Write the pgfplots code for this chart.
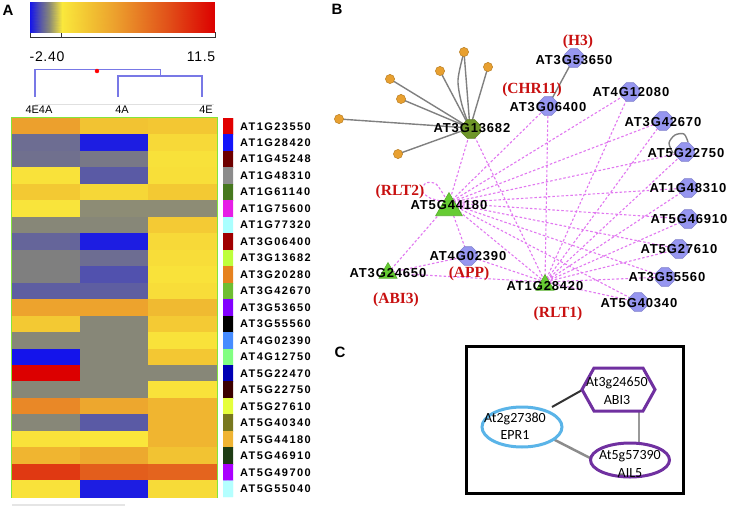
\documentclass[border=0pt]{standalone}
\usepackage{fontspec}
\setmainfont{Liberation Sans}
\newfontfamily\lsA[LetterSpace=13]{Liberation Sans}
\newfontfamily\lsB[LetterSpace=6.5]{Liberation Sans}
\newfontfamily\lsC[LetterSpace=5]{Liberation Sans}
\newfontfamily\rmred{Liberation Serif}
\newfontfamily\carfont{Carlito}
\usepackage{pgfplots}
\pgfplotsset{compat=1.18}
\usepackage{pgfplotstable}
\usetikzlibrary{shapes.geometric}

\definecolor{hgreen}{RGB}{130,230,60}
\definecolor{dendro}{RGB}{120,120,230}
\definecolor{dotor}{RGB}{232,160,48}
\definecolor{nblue}{RGB}{150,150,240}
\definecolor{ngreen}{RGB}{110,150,40}
\definecolor{tgreen}{RGB}{102,204,51}
\definecolor{edgem}{RGB}{225,120,240}
\definecolor{redlab}{RGB}{200,16,16}
\definecolor{cblue}{RGB}{90,180,232}
\definecolor{cpurp}{RGB}{112,48,160}

% rounded node shape for the network
\pgfdeclareplotmark{oct}{%
  \pgfpathmoveto{\pgfqpoint{\pgfplotmarksize}{0.4\pgfplotmarksize}}%
  \pgfpathlineto{\pgfqpoint{0.4\pgfplotmarksize}{\pgfplotmarksize}}%
  \pgfpathlineto{\pgfqpoint{-0.4\pgfplotmarksize}{\pgfplotmarksize}}%
  \pgfpathlineto{\pgfqpoint{-\pgfplotmarksize}{0.4\pgfplotmarksize}}%
  \pgfpathlineto{\pgfqpoint{-\pgfplotmarksize}{-0.4\pgfplotmarksize}}%
  \pgfpathlineto{\pgfqpoint{-0.4\pgfplotmarksize}{-\pgfplotmarksize}}%
  \pgfpathlineto{\pgfqpoint{0.4\pgfplotmarksize}{-\pgfplotmarksize}}%
  \pgfpathlineto{\pgfqpoint{\pgfplotmarksize}{-0.4\pgfplotmarksize}}%
  \pgfpathclose
  \pgfusepathqfillstroke}

\pgfplotsset{
  txt/.style={draw=none, mark=none, nodes near coords, point meta=explicit symbolic,
    nodes near coords style={anchor=center, inner sep=0pt, #1}},
  colormap={heat}{[1pt] rgb255(0pt)=(20,20,235) rgb255(8pt)=(90,90,165)
    rgb255(14pt)=(135,135,120) rgb255(24pt)=(250,232,60) rgb255(44pt)=(242,195,50)
    rgb255(64pt)=(236,160,45) rgb255(104pt)=(225,80,25) rgb255(139pt)=(220,0,0)},
}

% expression values (4E4A, 4A, 4E), row 0 = AT1G23550
\pgfplotstableread{
x y c
0 0 4.0
1 0 2.0
2 0 1.8
0 1 -1.35
1 1 -2.3
2 1 0.8
0 2 -1.3
1 2 -1.2
2 2 0.4
0 3 0.3
1 3 -1.6
2 3 0.5
0 4 1.7
1 4 0.9
2 4 1.7
0 5 0.2
1 5 -0.95
2 5 -0.95
0 6 -1.0
1 6 -1.0
2 6 1.6
0 7 -1.45
1 7 -2.3
2 7 0.8
0 8 -1.1
1 8 -1.35
2 8 0.6
0 9 -1.1
1 9 -1.7
2 9 0.3
0 10 -1.55
1 10 -1.55
2 10 0.6
0 11 3.8
1 11 3.8
2 11 2.5
0 12 1.7
1 12 -1.0
2 12 1.6
0 13 -1.0
1 13 -1.0
2 13 0.3
0 14 -2.4
1 14 -1.0
2 14 1.8
0 15 11.5
1 15 -1.0
2 15 -1.0
0 16 -1.0
1 16 -1.0
2 16 0.3
0 17 5.2
1 17 3.6
2 17 2.8
0 18 -1.0
1 18 -1.6
2 18 2.8
0 19 0.3
1 19 0.1
2 19 2.8
0 20 2.8
1 20 3.5
2 20 2.0
0 21 9.0
1 21 7.3
2 21 7.0
0 22 0.3
1 22 -2.3
2 22 0.7
}\heat

\pgfplotstableread{
x y c
0 0 0
1 0 0
0 1 1
1 1 1
0 2 2
1 2 2
0 3 3
1 3 3
0 4 4
1 4 4
0 5 5
1 5 5
0 6 6
1 6 6
0 7 7
1 7 7
0 8 8
1 8 8
0 9 9
1 9 9
0 10 10
1 10 10
0 11 11
1 11 11
0 12 12
1 12 12
0 13 13
1 13 13
0 14 14
1 14 14
0 15 15
1 15 15
0 16 16
1 16 16
0 17 17
1 17 17
0 18 18
1 18 18
0 19 19
1 19 19
0 20 20
1 20 20
0 21 21
1 21 21
0 22 22
1 22 22
}\side

\pgfplotstableread{
x y lab
574 60 AT3G53650
548 107 AT3G06400
631 92 AT4G12080
663 122 AT3G42670
686 153 AT5G22750
472 128 AT3G13682
688 188 AT1G48310
689 219 AT5G46910
679 249 AT5G27610
667 277 AT3G55560
639 303 AT5G40340
545 286 AT1G28420
468 256 AT4G02390
388 273 AT3G24650
449 205 AT5G44180
}\genelab

\pgfplotstableread{
x y lab
578 42 (H3)
532 90 (CHR11)
400 192 (RLT2)
469 274 (APP)
396 300 (ABI3)
558 314 (RLT1)
}\redlab

\pgfplotstableread{
x y lab
39 110 4E4A
122 110 4A
206 110 4E
}\dendlab

\pgfplotstableread{
x y lab
47 57 -2.40
201 57 11.5
}\cblab

\pgfplotstableread{
x y lab
8 10 A
337 9 B
340 352 C
}\panlab

\begin{document}
\begin{tikzpicture}
% ---------- main canvas: dendrogram, network, panel C ----------
\begin{axis}[at={(0,0)}, anchor=south west, width=730bp, height=508bp, scale only axis,
  xmin=0, xmax=730, ymin=0, ymax=508, y dir=reverse, hide axis, clip=false,
  unbounded coords=jump]
% dendrogram
\addplot[dendro, line width=1.5bp] coordinates {(35,97)(35,69.5)(160.7,69.5)(160.7,76) (nan,nan) (118,97)(118,76)(202,76)(202,97)};
\addplot[only marks, mark=*, mark size=2, red, mark options={draw=red}] coordinates {(97,71)};
\addplot[black!12, line width=1bp] coordinates {(35,105)(214,105)};
\addplot[black!80, line width=0.8bp] coordinates {(30,32)(30,37)(215,37)(215,32) (nan,nan) (61,32)(61,37)};
\addplot[black!10, line width=1.5bp] coordinates {(12,505)(125,505)};
\addplot[txt={font=\fontsize{11bp}{12bp}\selectfont}] table[meta=lab] {\dendlab};
\addplot[txt={font=\lsC\fontsize{14bp}{16bp}\selectfont}] table[meta=lab] {\cblab};
\addplot[txt={font=\bfseries\fontsize{15bp}{17bp}\selectfont}] table[meta=lab] {\panlab};

% network B: edges
\addplot[black!50, line width=1.4bp] coordinates {
 (464,52)(470,128) (nan,nan) (488,67)(470,128) (nan,nan) (440,71)(470,128) (nan,nan)
 (390,79)(470,128) (nan,nan) (401,99)(470,128) (nan,nan) (339,119)(470,128) (nan,nan)
 (398,154)(470,128) (nan,nan) (548,106)(574,58)};
\addplot[black!50, line width=1.4bp, smooth] coordinates {(464,52)(458,80)(462,105)(470,128)};
\addplot[black!50, line width=1.4bp, smooth] coordinates {(673,153)(669,143)(675,135)(684,134)(688,142)};
\addplot[edgem, line width=1.1bp, dash pattern=on 2.5bp off 2bp] coordinates {
 (449,203)(471,129)(545,282) (nan,nan)
 (449,203)(548,106)(545,282) (nan,nan)
 (449,203)(630,92)(545,282) (nan,nan)
 (449,203)(663,121)(545,282) (nan,nan)
 (449,203)(685,152)(545,282) (nan,nan)
 (449,203)(688,188)(545,282) (nan,nan)
 (449,203)(688,219)(545,282) (nan,nan)
 (449,203)(679,249)(545,282) (nan,nan)
 (449,203)(665,277)(545,282) (nan,nan)
 (449,203)(638,302)(545,282) (nan,nan)
 (449,203)(468,256)(545,282) (nan,nan)
 (449,203)(388,273)(545,282) (nan,nan)
 (388,273)(468,256) (nan,nan)
 (449,203)(545,282)};
\addplot[edgem, line width=1.1bp, dash pattern=on 2.5bp off 2bp, smooth] coordinates {(445,197)(436,184)(426,183)(422,191)(430,198)(441,201)};
% network B: nodes
\addplot[only marks, mark=*, mark size=4.6, mark options={fill=dotor, draw=dotor!80!black, line width=0.5bp}] coordinates {
 (464,52)(488,67)(440,71)(390,79)(401,99)(339,119)(398,154)};
\addplot[only marks, mark=oct, mark size=9.3, mark options={fill=nblue, draw=nblue!85!black, line width=0.6bp}] coordinates {
 (574,58)(548,106)(630,92)(663,121)(685,152)(688,188)(688,219)(679,249)(665,277)(638,302)(468,256)};
\addplot[only marks, mark=oct, mark size=9.3, mark options={fill=ngreen, draw=ngreen!85!black, line width=0.6bp}] coordinates {(471,129)};
\addplot[only marks, mark=triangle*, mark size=15.5, mark options={fill=tgreen, draw=tgreen!85!black, line width=0.6bp}] coordinates {(449,208)};
\addplot[only marks, mark=triangle*, mark size=10.5, mark options={fill=tgreen, draw=tgreen!85!black, line width=0.6bp}] coordinates {(545,285)(388,273)};
\addplot[txt={font=\lsB\bfseries\fontsize{13bp}{15bp}\selectfont}] table[meta=lab] {\genelab};
\addplot[txt={font=\rmred\bfseries\fontsize{15.5bp}{18bp}\selectfont, text=redlab}] table[meta=lab] {\redlab};

% panel C
\addplot[black!80, line width=2bp] coordinates {(552,407)(584,389)};
\addplot[black!45, line width=2.5bp] coordinates {(551,438)(592,459)};
\addplot[black!40, line width=2.5bp] coordinates {(639,411)(639,443)};
\addplot[cpurp, line width=3bp, fill=white, line join=miter] coordinates {(582,389.5)(594,368)(643,368)(655,389.5)(643,411)(594,411)} --cycle;
\addplot[draw=none, nodes near coords={\phantom{x}}, nodes near coords style={ellipse, draw=cblue, line width=3bp, fill=white, minimum width=80bp, minimum height=40bp, inner sep=0pt, anchor=center}] coordinates {(522,427)};
\addplot[draw=none, nodes near coords={\phantom{x}}, nodes near coords style={ellipse, draw=cpurp, line width=3bp, fill=white, minimum width=79bp, minimum height=34bp, inner sep=0pt, anchor=center}] coordinates {(630,460)};
\addplot[draw=none, nodes near coords={At2g27380\\EPR1}, nodes near coords style={align=center, anchor=center, inner sep=0pt, font=\carfont\fontsize{14bp}{17.5bp}\selectfont}] coordinates {(515,426)};
\addplot[draw=none, nodes near coords={At3g24650\\ABI3}, nodes near coords style={align=center, anchor=center, inner sep=0pt, font=\carfont\fontsize{14bp}{17.5bp}\selectfont}] coordinates {(617,391)};
\addplot[draw=none, nodes near coords={At5g57390\\AIL5}, nodes near coords style={align=center, anchor=center, inner sep=0pt, font=\carfont\fontsize{14bp}{17.5bp}\selectfont}] coordinates {(630,464)};
\addplot[black, line width=3bp, line join=miter] coordinates {(466,346)(683,346)(683,493)(466,493)} --cycle;
\end{axis}

% ---------- colour scale ----------
\begin{axis}[at={(30bp,475bp)}, anchor=south west, width=185bp, height=31bp, scale only axis,
  xmin=-2.4, xmax=11.5, ymin=0, ymax=1, enlargelimits=false, hide axis,
  colormap name=heat, point meta min=-2.4, point meta max=11.5]
\addplot[surf, shader=interp, mesh/cols=8, point meta=x] coordinates {
 (-2.4,0)(-1.6,0)(-1,0)(0,0)(2,0)(4,0)(8,0)(11.5,0)
 (-2.4,1)(-1.6,1)(-1,1)(0,1)(2,1)(4,1)(8,1)(11.5,1)};
\end{axis}

% ---------- heatmap ----------
\begin{axis}[at={(12bp,11bp)}, anchor=south west, width=205bp, height=379bp, scale only axis,
  xmin=-0.5, xmax=2.5, ymin=-0.5, ymax=22.5, y dir=reverse, enlargelimits=false,
  xtick=\empty, ytick=\empty, axis line style={draw=hgreen, line width=2.5bp},
  colormap name=heat, point meta min=-2.4, point meta max=11.5]
\addplot[matrix plot*, mesh/cols=3, point meta=explicit] table[x=x, y=y, meta=c] {\heat};
\end{axis}

% ---------- cluster colour strip and gene names ----------
\begin{axis}[at={(223bp,11bp)}, anchor=south west, width=10bp, height=379bp, scale only axis,
  xmin=-0.5, xmax=1.5, ymin=-0.5, ymax=22.5, y dir=reverse, enlargelimits=false,
  axis line style={draw=none}, xtick=\empty, major tick length=0pt,
  ytick={0,...,22}, yticklabel pos=right,
  yticklabels={AT1G23550,AT1G28420,AT1G45248,AT1G48310,AT1G61140,AT1G75600,AT1G77320,
    AT3G06400,AT3G13682,AT3G20280,AT3G42670,AT3G53650,AT3G55560,AT4G02390,AT4G12750,
    AT5G22470,AT5G22750,AT5G27610,AT5G40340,AT5G44180,AT5G46910,AT5G49700,AT5G55040},
  yticklabel style={font=\lsA\bfseries\fontsize{11bp}{12bp}\selectfont, anchor=west, inner sep=0pt, xshift=7bp},
  colormap={side}{rgb255=(225,0,0) rgb255=(20,20,250) rgb255=(110,0,0) rgb255=(140,140,140)
    rgb255=(70,120,30) rgb255=(230,30,230) rgb255=(170,255,255) rgb255=(160,0,0)
    rgb255=(190,255,60) rgb255=(230,130,30) rgb255=(110,190,50) rgb255=(130,0,255)
    rgb255=(0,0,0) rgb255=(70,140,255) rgb255=(130,255,130) rgb255=(0,0,180)
    rgb255=(60,0,0) rgb255=(230,255,60) rgb255=(120,120,30) rgb255=(240,180,50)
    rgb255=(30,60,20) rgb255=(170,0,255) rgb255=(180,255,255)},
  colormap access=direct]
\addplot[matrix plot*, mesh/cols=2, point meta=explicit] table[x=x, y=y, meta=c] {\side};
\end{axis}
\pgfresetboundingbox
\useasboundingbox (0,0) rectangle (730bp,508bp);
\end{tikzpicture}
\end{document}
